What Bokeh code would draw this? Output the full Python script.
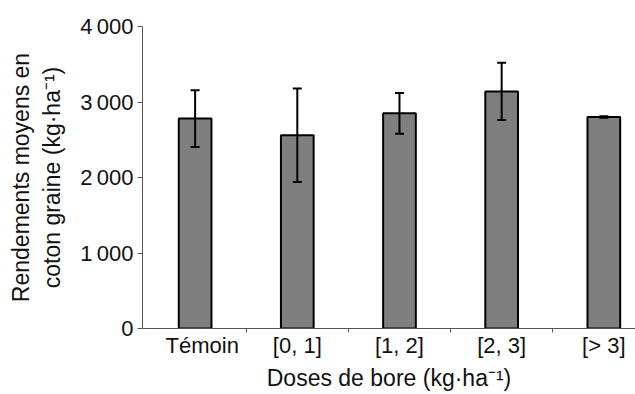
from bokeh.plotting import figure
from bokeh.models import ColumnDataSource, Range1d, FixedTicker, Whisker, TeeHead
from bokeh.embed import file_html
from bokeh.resources import INLINE

# Mean seed-cotton yield per boron dose class, with error half-widths
categories = ["Témoin", "[0, 1]", "[1, 2]", "[2, 3]", "[> 3]"]
rendement = [2780, 2560, 2850, 3140, 2800]
ecart = [375, 620, 270, 380, 10]

y_ticks = [0, 1000, 2000, 3000, 4000]
y_tick_labels = ["0", "1\u2009000", "2\u2009000", "3\u2009000", "4\u2009000"]

FONT = "Liberation Sans"
TEXT = "#111111"
AXIS = "#555555"

centers = [i + 0.5 for i in range(len(categories))]
source = ColumnDataSource(data=dict(
    x=centers,
    top=rendement,
    upper=[m + e for m, e in zip(rendement, ecart)],
    lower=[m - e for m, e in zip(rendement, ecart)],
))

p = figure(
    width=635, height=394,
    x_range=Range1d(-0.015, 4.81), y_range=Range1d(0, 4000),
    output_backend="svg", toolbar_location=None,
    min_border_left=142, min_border_right=0,
    min_border_top=26, min_border_bottom=66,
)
p.outline_line_color = None
p.grid.grid_line_color = None
p.background_fill_color = "white"
p.border_fill_color = "white"

p.vbar(x="x", top="top", width=0.32, source=source,
       fill_color="#7f7f7f", line_color="black", line_width=2)

p.add_layout(Whisker(
    source=source, base="x", upper="upper", lower="lower",
    level="overlay",
    line_color="black", line_width=2,
    upper_head=TeeHead(size=9, line_color="black", line_width=2),
    lower_head=TeeHead(size=9, line_color="black", line_width=2),
))

# x axis: category names under the bars (first one nudged right),
# small tick marks between categories
label_pos = [c + (0.07 if i == 0 else 0.0) for i, c in enumerate(centers)]
xa = p.xaxis[0]
xa.ticker = FixedTicker(ticks=label_pos, minor_ticks=[1, 2, 3, 4])
xa.major_label_overrides = {c: lab for c, lab in zip(label_pos, categories)}
xa.major_tick_line_color = None
xa.major_tick_out = 0
xa.major_tick_in = 0
xa.minor_tick_out = 4
xa.minor_tick_in = 0
xa.minor_tick_line_color = AXIS
xa.axis_line_color = AXIS
xa.major_label_standoff = 0
xa.major_label_text_font = FONT
xa.major_label_text_font_size = "22px"
xa.major_label_text_color = TEXT
xa.axis_label = "Doses de bore (kg·ha⁻¹)"
xa.axis_label_text_font = FONT
xa.axis_label_text_font_size = "23px"
xa.axis_label_text_font_style = "normal"
xa.axis_label_text_color = TEXT
xa.axis_label_standoff = 4

ya = p.yaxis[0]
ya.ticker = FixedTicker(ticks=y_ticks)
ya.major_label_overrides = {t: lab for t, lab in zip(y_ticks, y_tick_labels)}
ya.minor_tick_line_color = None
ya.major_tick_out = 5
ya.major_tick_in = 0
ya.major_tick_line_color = AXIS
ya.axis_line_color = AXIS
ya.major_label_standoff = 4
ya.major_label_text_font = FONT
ya.major_label_text_font_size = "22px"
ya.major_label_text_color = TEXT
ya.axis_label = "Rendements moyens en\ncoton graine (kg·ha⁻¹)"
ya.axis_label_text_font = FONT
ya.axis_label_text_font_size = "23px"
ya.axis_label_text_font_style = "normal"
ya.axis_label_text_color = TEXT
ya.axis_label_standoff = 12

open("out.html", "w").write(file_html(p, INLINE))
